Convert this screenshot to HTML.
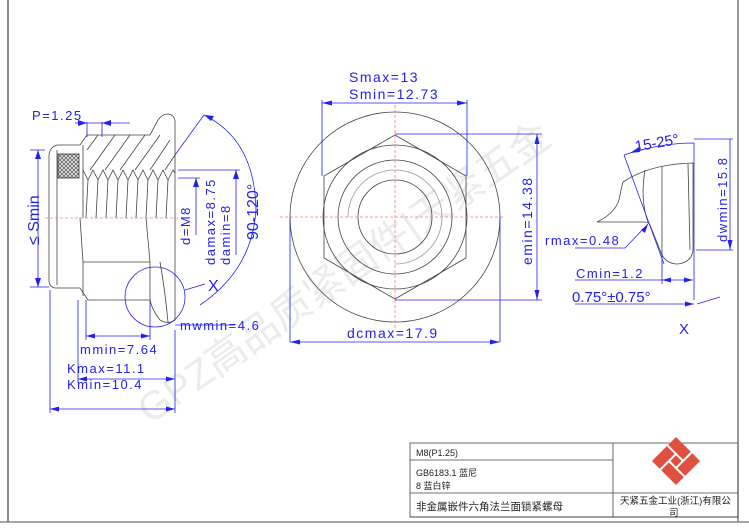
<!DOCTYPE html>
<html><head><meta charset="utf-8"><style>
html,body{margin:0;padding:0;background:#fff}
svg{display:block}
text{font-family:"Liberation Sans","Noto Sans CJK SC",sans-serif}
.lb text{letter-spacing:1.5px}
</style></head><body>
<svg width="749" height="530" viewBox="0 0 749 530" xmlns="http://www.w3.org/2000/svg">
<defs>
<pattern id="xh" width="4" height="4" patternUnits="userSpaceOnUse">
<rect width="4" height="4" fill="#ddd"/>
<path d="M0,0 L4,4 M4,0 L0,4" stroke="#444" stroke-width="0.6"/>
</pattern>
</defs>
<rect width="749" height="530" fill="#fff"/>
<line x1="8" y1="0" x2="8" y2="522" stroke="#888" stroke-width="2"/>
<line x1="738" y1="0" x2="738" y2="522" stroke="#555" stroke-width="1.2"/>
<line x1="0" y1="522" x2="749" y2="522" stroke="#888" stroke-width="1.5"/>
<line x1="410" y1="517" x2="738" y2="517" stroke="#333" stroke-width="1"/>

<text x="0" y="0" transform="translate(150,425) rotate(-35)" font-size="40" fill="#ebebeb">GPZ高品质紧固件|天紧五金</text>

<g stroke="#444" stroke-width="0.8" fill="none">
<rect x="410" y="443" width="328" height="74"/>
<line x1="410" y1="460" x2="613" y2="460"/>
<line x1="410" y1="493" x2="738" y2="493"/>
<line x1="613" y1="443" x2="613" y2="517"/>
</g>
<g font-size="9" fill="#222">
<text x="416" y="456">M8(P1.25)</text>
<text x="416" y="476">GB6183.1 蓝尼</text>
<text x="416" y="489">8 蓝白锌</text>
<text x="416" y="510" font-size="10.5">非金属嵌件六角法兰面锁紧螺母</text>
<text x="620" y="504" font-size="9.5">天紧五金工业(浙江)有限公</text>
<text x="669" y="516" font-size="9.5">司</text>
</g>
<g transform="translate(676,461) rotate(45)">
<rect x="-17" y="-17" width="34" height="34" fill="#e05040"/>
<g stroke="#fff" stroke-width="2">
<line x1="-17" y1="-5" x2="5" y2="-5"/><line x1="5" y1="-17" x2="5" y2="5"/>
<line x1="17" y1="5" x2="-5" y2="5"/><line x1="-5" y1="17" x2="-5" y2="-5"/>
</g></g>

<!-- LEFT VIEW -->
<g stroke="#444" stroke-width="0.8" fill="none">
<path d="M49,155 Q50,147 57,145 L80,145 L87,135 L150,135 L158,120 Q162,114 168,114 Q175,115 175,122 L175,320 Q168,325 160,320 Q152,310 150,300 L88,300 L80,288 L55,288 Q49,287 49,280 Z"/>
<line x1="57" y1="150" x2="57" y2="285"/>
<line x1="83" y1="145" x2="83" y2="218"/>
<path d="M80,218 L83,262 L83,296 M146,218 L150,262 L150,300 M83,262 L150,262"/>
<path d="M83,170 L88,180 L93,170 L98,180 L103,170 L108,180 L113,170 L118,180 L123,170 L128,180 L133,170 L138,180 L143,170 L148,180 L153,170 L158,180 L163,170 L168,180 L173,170 L175,173"/>
<path d="M86,218 L88,180 M96,218 L98,180 M106,218 L108,180 M116,218 L118,180 M126,218 L128,180 M136,218 L138,180 M146,218 L148,180 M156,218 L158,180 M166,218 L168,180"/>
<path d="M90,170 L115,135 M105,170 L130,135 M120,170 L145,135 M135,170 L160,135 M150,170 L170,140 M165,170 L175,155 M87,150 L98,135"/>
<path d="M160,262 Q165,290 168,322"/>
</g>
<rect x="58" y="154" width="21" height="24" fill="url(#xh)" stroke="#333" stroke-width="0.8"/>
<line x1="45" y1="218" x2="180" y2="218" stroke="#f08080" stroke-width="0.8" stroke-dasharray="3,2"/>
<g stroke="#2222ee" stroke-width="0.8" fill="none">
<path d="M30,150 L45,150 M30,287 L49,287 M38,150 L38,287"/>
<path d="M87,122 L87,137 M102,122 L102,137 M75,123 L130,123"/>
<path d="M178,170 L240,170 M178,178 L200,178 M196,178 L196,235 M236,170 L236,255"/>
<circle cx="155" cy="297" r="30"/>
<path d="M185,290 L205,284"/>
<path d="M175,325 L235,325 M175,330 L175,413"/>
<path d="M86,300 L86,340 M150,300 L150,340 M86,336 L150,336 M78,300 L78,383 M50,290 L50,413 M78,379 L175,379 M50,409 L175,409"/>
<path d="M175,155 L204,115 Q255,140 256,210 Q252,270 200,305"/>
</g>
<g fill="#2222ee">
<path d="M38,150 l-3,9 l6,0 Z M38,287 l-3,-9 l6,0 Z"/>
<path d="M87,123 l-9,-3 l0,6 Z M102,123 l9,-3 l0,6 Z"/>
<path d="M196,178 l-3,9 l6,0 Z M236,170 l-3,9 l6,0 Z"/>
<path d="M86,336 l9,-2.5 l0,5 Z M150,336 l-9,-2.5 l0,5 Z M78,379 l9,-2.5 l0,5 Z M175,379 l-9,-2.5 l0,5 Z M50,409 l9,-2.5 l0,5 Z M175,409 l-9,-2.5 l0,5 Z"/>
<path d="M204,115 l10,1 l-3,5 Z"/>
</g>
<g fill="#2222ee" font-size="13" class="lb">
<text x="32" y="120">P=1.25</text>
<text transform="translate(190,245) rotate(-90)">d=M8</text>
<text transform="translate(215,265) rotate(-90)">damax=8.75</text>
<text transform="translate(230,265) rotate(-90)">damin=8</text>
<text x="180" y="330">mwmin=4.6</text>
<text x="80" y="354">mmin=7.64</text>
<text x="67" y="373">Kmax=11.1</text>
<text x="67" y="389">Kmin=10.4</text>
</g>
<g fill="#2222ee">
<text transform="translate(39,245) rotate(-90)" font-size="16">≤ Smin</text>
<text transform="translate(258,240) rotate(-90)" font-size="16">90-120°</text>
<text x="208" y="291" font-size="16">X</text>
</g>

<!-- CENTER VIEW -->
<g stroke="#444" stroke-width="0.8" fill="none">
<circle cx="395" cy="217" r="105"/>
<polygon points="395,135 466,176 466,258 395,299 324,258 324,176"/>
<circle cx="395" cy="217" r="72"/>
<circle cx="395" cy="217" r="57"/>
<circle cx="395" cy="217" r="37"/>
<path d="M348,217 A47,47 0 1,1 395,264" stroke="#999"/>
</g>
<g stroke="#f08080" stroke-width="0.8" stroke-dasharray="3,2">
<line x1="280" y1="217" x2="505" y2="217"/>
<line x1="395" y1="105" x2="395" y2="330"/>
</g>
<g stroke="#2222ee" stroke-width="0.8" fill="none">
<path d="M322,100 L322,176 M467,100 L467,176 M322,103 L467,103"/>
<path d="M395,134 L542,134 M395,300 L542,300 M537,134 L537,300"/>
<path d="M290,217 L290,342 M500,217 L500,342 M290,342 L500,342"/>
</g>
<g fill="#2222ee">
<path d="M322,103 l10,-2.5 l0,5 Z M467,103 l-10,-2.5 l0,5 Z"/>
<path d="M537,134 l-2.5,10 l5,0 Z M537,300 l-2.5,-10 l5,0 Z"/>
<path d="M290,342 l10,-2.5 l0,5 Z M500,342 l-10,-2.5 l0,5 Z"/>
</g>
<g fill="#2222ee" font-size="14" class="lb">
<text x="349" y="82">Smax=13</text>
<text x="349" y="99">Smin=12.73</text>
<text transform="translate(532,265) rotate(-90)">emin=14.38</text>
<text x="347" y="338">dcmax=17.9</text>
</g>

<!-- RIGHT VIEW -->
<g stroke="#444" stroke-width="0.8" fill="none">
<path d="M623,182 Q650,164 693,163 L693,250 Q692,262 678,264 Q664,264 660,250 L650,225 Q648,222 645,222 L597,222 Q618,212 620,195 Q622,185 623,182"/>
<path d="M645,170 Q640,200 648,222"/>
<line x1="662" y1="166" x2="662" y2="250"/>
<line x1="688" y1="164" x2="690" y2="250"/>
</g>
<g stroke="#2222ee" stroke-width="0.8" fill="none">
<path d="M624,155 Q660,143 694,143 M624,155 L664,264 M694,143 L694,300"/>
<path d="M694,139 L733,139 M696,250 L733,250 M730,139 L730,250"/>
<path d="M575,248 L625,248 L648,224"/>
<path d="M575,280 L693,280 M662,250 L662,284"/>
<path d="M575,304 L694,304 M697,304 L720,297"/>
</g>
<g fill="#2222ee">
<path d="M630,153 l9,-6 l1,5 Z M730,250 l-2.5,-10 l5,0 Z M648,224 l-3,9 l-4,-3 Z M662,280 l9,-2.5 l0,5 Z M693,280 l-9,-2.5 l0,5 Z M694,304 l-9,-2.5 l0,5 Z"/>
</g>
<g fill="#2222ee" font-size="13" class="lb">
<text transform="translate(727,242) rotate(-90)">dwmin=15.8</text>
<text x="545" y="245">rmax=0.48</text>
<text x="576" y="278">Cmin=1.2</text>
</g>
<g fill="#2222ee">
<text x="635" y="149" font-size="15" transform="rotate(-10,650,145)">15-25°</text>
<text x="572" y="302" font-size="15">0.75°±0.75°</text>
<text x="679" y="334" font-size="15">X</text>
</g>
</svg>
</body></html>
